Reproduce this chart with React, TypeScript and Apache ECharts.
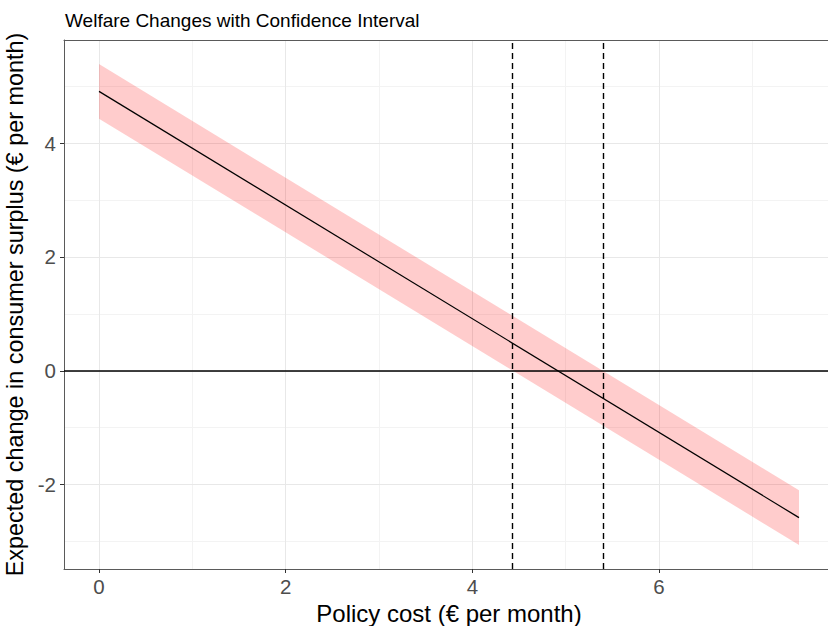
import React, { useEffect, useRef } from "react";
import * as echarts from "echarts";

// Policy cost grid (€ per month) and the fitted welfare change with its confidence band
const costs = [0, 7.5];
const estimate = [4.91, -2.58];
const lowerBound = [4.43, -3.06];
const upperBound = [5.39, -2.1];
// Costs at which the band crosses zero
const thresholds = [4.43, 5.4];

const xTicks = [0, 2, 4, 6];
const xMinorTicks = [1, 3, 5, 7];
const yTicks = [-2, 0, 2, 4];
const yMinorTicks = [-3, -1, 1, 3, 5];

const FONT = "'Liberation Sans', Arial, Helvetica, sans-serif";
const BORDER = "#5a5a5a";

// ggplot-style 5% expansion of a data range
function expand(lo: number, hi: number) {
  const pad = (hi - lo) * 0.05;
  return [lo - pad, hi + pad];
}

export default function App() {
  const ref = useRef<HTMLDivElement>(null);

  useEffect(() => {
    if (!ref.current) return;
    document.body.style.overflow = "hidden";
    const chart = echarts.init(ref.current, undefined, { renderer: "svg" });

    const [xMin, xMax] = expand(Math.min(...costs), Math.max(...costs));
    const [yMin, yMax] = expand(
      Math.min(...lowerBound),
      Math.max(...upperBound)
    );

    const gridLine = (key: "xAxis" | "yAxis", v: number, color: string) => ({
      [key]: v,
      lineStyle: { color, width: 1, type: "solid" },
    });

    const bandRows = costs.map((c, i) => [c, lowerBound[i], upperBound[i]]);

    chart.setOption({
      animation: false,
      title: {
        text: "Welfare Changes with Confidence Interval",
        left: 65,
        top: 11,
        padding: 0,
        textStyle: {
          fontFamily: FONT,
          fontSize: 19,
          fontWeight: "normal",
          color: "#000",
        },
      },
      grid: {
        left: 64,
        top: 40,
        right: 2,
        bottom: 57,
        show: false,
        containLabel: false,
        outerBoundsMode: "none",
      },
      xAxis: [
        {
          type: "value",
          position: "bottom",
          min: xMin,
          max: xMax,
          name: "Policy cost (€ per month)",
          nameLocation: "middle",
          nameGap: 25,
          nameTextStyle: { fontFamily: FONT, fontSize: 24, color: "#000" },
          axisLine: { show: true, onZero: false, lineStyle: { color: BORDER, width: 1 } },
          splitLine: { show: false },
          axisTick: {
            show: true,
            length: 4,
            customValues: xTicks,
            lineStyle: { color: "#333" },
          },
          axisLabel: {
            customValues: xTicks,
            margin: 7,
            fontFamily: FONT,
            fontSize: 20.5,
            color: "#4d4d4d",
          },
        },
        {
          // top edge of the panel
          type: "value",
          position: "top",
          min: xMin,
          max: xMax,
          axisLine: { show: true, onZero: false, lineStyle: { color: BORDER, width: 1 } },
          axisTick: { show: false },
          axisLabel: { show: false },
          splitLine: { show: false },
        },
      ],
      yAxis: {
        type: "value",
        min: yMin,
        max: yMax,
        name: "Expected change in consumer surplus (€ per month)",
        nameLocation: "middle",
        nameGap: 31,
        nameTextStyle: { fontFamily: FONT, fontSize: 23.4, color: "#000" },
        axisLine: { show: true, onZero: false, lineStyle: { color: BORDER, width: 1 } },
        splitLine: { show: false },
        axisTick: {
          show: true,
          length: 4,
          customValues: yTicks,
          lineStyle: { color: "#333" },
        },
        axisLabel: {
          customValues: yTicks,
          margin: 8,
          fontFamily: FONT,
          fontSize: 20.5,
          color: "#4d4d4d",
        },
      },
      series: [
        {
          // panel grid lines
          type: "line",
          data: [],
          z: 0,
          silent: true,
          markLine: {
            silent: true,
            symbol: ["none", "none"],
            label: { show: false },
            z: 0,
            data: [
              ...xMinorTicks.map((v) => gridLine("xAxis", v, "#f3f3f3")),
              ...yMinorTicks.map((v) => gridLine("yAxis", v, "#f3f3f3")),
              ...xTicks.map((v) => gridLine("xAxis", v, "#e8e8e8")),
              ...yTicks.map((v) => gridLine("yAxis", v, "#e8e8e8")),
            ],
          },
        },
        {
          // confidence band
          type: "custom",
          z: 1,
          silent: true,
          data: bandRows,
          encode: { x: 0, y: [1, 2] },
          renderItem: (params: any, api: any) => {
            if (params.dataIndex !== 0) return null;
            const top = bandRows.map((r) => api.coord([r[0], r[2]]));
            const bottom = bandRows
              .slice()
              .reverse()
              .map((r) => api.coord([r[0], r[1]]));
            return {
              type: "polygon",
              shape: { points: [...top, ...bottom] },
              style: { fill: "rgba(255,0,0,0.2)", stroke: "none" },
            };
          },
        },
        {
          type: "line",
          z: 3,
          data: costs.map((c, i) => [c, estimate[i]]),
          showSymbol: false,
          symbol: "none",
          lineStyle: { color: "#000", width: 1.2 },
          markLine: {
            silent: true,
            symbol: ["none", "none"],
            label: { show: false },
            data: [
              {
                yAxis: 0,
                lineStyle: { color: "#000", width: 1.5, type: "solid" },
              },
              ...thresholds.map((t) => ({
                xAxis: t,
                lineStyle: { color: "#000", width: 1.4, type: [6, 4] },
              })),
            ],
          },
        },
      ],
    });

    return () => chart.dispose();
  }, []);

  return (
    <div
      ref={ref}
      style={{
        position: "fixed",
        left: 0,
        top: 0,
        width: 836,
        height: 626,
        background: "#fff",
      }}
    />
  );
}
